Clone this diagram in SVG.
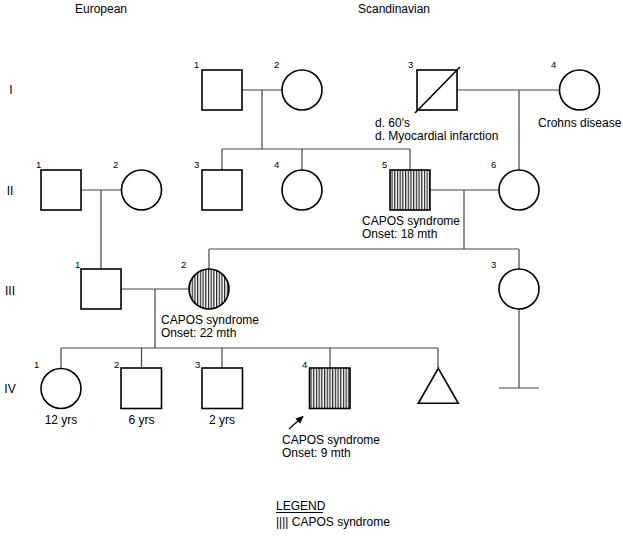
<svg xmlns="http://www.w3.org/2000/svg" width="623" height="540" viewBox="0 0 623 540">
<style>
.n{fill:#fff;stroke:#000;stroke-width:1.6}
.h{fill:url(#hatch);stroke:#000;stroke-width:1.6}
.c{fill:none;stroke:#444;stroke-width:1.2}
text{font-family:"Liberation Sans",Arial,sans-serif;fill:#000}
.t{font-size:12px}
.num{font-size:9.5px}
.gen{font-size:12px}
</style>
<defs>
<pattern id="hatch" patternUnits="userSpaceOnUse" width="2.7" height="10">
<rect width="2.7" height="10" fill="#fff"/>
<rect x="0" width="1.2" height="10" fill="#222"/>
</pattern>
<marker id="arr" markerWidth="8" markerHeight="8" refX="7" refY="4" orient="auto" markerUnits="userSpaceOnUse">
<path d="M0,0.5 L8,4 L0,7.5 Z" fill="#000"/>
</marker>
</defs>
<rect width="623" height="540" fill="#fff"/>

<text class="t" x="101" y="13" text-anchor="middle">European</text>
<text class="t" x="394" y="13" text-anchor="middle">Scandinavian</text>

<g id="gen-labels">
<text class="gen" x="11" y="94" text-anchor="middle">I</text>
<text class="gen" x="10" y="195" text-anchor="middle">II</text>
<text class="gen" x="10" y="295" text-anchor="middle">III</text>
<text class="gen" x="10" y="393" text-anchor="middle">IV</text>
</g>

<g id="connectors">
<line class="c" x1="242" y1="90" x2="282" y2="90"/>
<line class="c" x1="262" y1="90" x2="262" y2="149"/>
<line class="c" x1="222" y1="149" x2="410" y2="149"/>
<line class="c" x1="222" y1="149" x2="222" y2="170"/>
<line class="c" x1="302" y1="149" x2="302" y2="170"/>
<line class="c" x1="410" y1="149" x2="410" y2="170"/>
<line class="c" x1="457" y1="90" x2="559" y2="90"/>
<line class="c" x1="519" y1="90" x2="519" y2="170"/>
<line class="c" x1="81" y1="190" x2="121" y2="190"/>
<line class="c" x1="101" y1="190" x2="101" y2="269"/>
<line class="c" x1="430" y1="190" x2="499" y2="190"/>
<line class="c" x1="464" y1="190" x2="464" y2="249"/>
<line class="c" x1="209" y1="249" x2="519" y2="249"/>
<line class="c" x1="209" y1="249" x2="209" y2="269"/>
<line class="c" x1="519" y1="249" x2="519" y2="269"/>
<line class="c" x1="121" y1="289" x2="189" y2="289"/>
<line class="c" x1="155" y1="289" x2="155" y2="348"/>
<line class="c" x1="61" y1="348" x2="438" y2="348"/>
<line class="c" x1="61" y1="348" x2="61" y2="368"/>
<line class="c" x1="141.5" y1="348" x2="141.5" y2="368"/>
<line class="c" x1="222" y1="348" x2="222" y2="368"/>
<line class="c" x1="330" y1="348" x2="330" y2="368"/>
<line class="c" x1="438" y1="348" x2="438" y2="368"/>
<line class="c" x1="519" y1="309" x2="519" y2="388"/>
<line class="c" x1="499" y1="388" x2="539" y2="388"/>
<line x1="289" y1="429" x2="303" y2="416.5" stroke="#000" stroke-width="1.2" marker-end="url(#arr)"/>
</g>

<g id="I-1"><rect class="n" x="202" y="70" width="40" height="40"/><text class="num" x="194" y="68">1</text></g>
<g id="I-2"><circle class="n" cx="302" cy="90" r="20"/><text class="num" x="274" y="68">2</text></g>
<g id="I-3"><rect class="n" x="417" y="70" width="40" height="40"/><line x1="415" y1="113" x2="460" y2="67" stroke="#000" stroke-width="1.6"/><text class="num" x="408" y="68">3</text>
<text class="t" x="375" y="127">d. 60's</text><text class="t" x="375" y="140">d. Myocardial infarction</text></g>
<g id="I-4"><circle class="n" cx="579.5" cy="90" r="20"/><text class="num" x="551" y="68">4</text><text class="t" x="538" y="127">Crohns disease</text></g>

<g id="II-1"><rect class="n" x="41" y="170" width="40" height="40"/><text class="num" x="36" y="168">1</text></g>
<g id="II-2"><circle class="n" cx="141.5" cy="190" r="20"/><text class="num" x="113" y="168">2</text></g>
<g id="II-3"><rect class="n" x="202" y="170" width="40" height="40"/><text class="num" x="194" y="168">3</text></g>
<g id="II-4"><circle class="n" cx="302" cy="190" r="20"/><text class="num" x="274" y="168">4</text></g>
<g id="II-5"><rect class="h" x="390" y="170" width="40" height="40"/><text class="num" x="382" y="168">5</text>
<text class="t" x="362" y="225">CAPOS syndrome</text><text class="t" x="362" y="238">Onset: 18 mth</text></g>
<g id="II-6"><circle class="n" cx="519" cy="190" r="20"/><text class="num" x="491" y="168">6</text></g>

<g id="III-1"><rect class="n" x="81" y="269" width="40" height="40"/><text class="num" x="75" y="268">1</text></g>
<g id="III-2"><circle class="h" cx="209" cy="289" r="20"/><text class="num" x="181" y="268">2</text>
<text class="t" x="161" y="324">CAPOS syndrome</text><text class="t" x="161" y="337">Onset: 22 mth</text></g>
<g id="III-3"><circle class="n" cx="519" cy="289" r="20"/><text class="num" x="491" y="268">3</text></g>

<g id="IV-1"><circle class="n" cx="61" cy="388.5" r="20"/><text class="num" x="34" y="368">1</text><text class="t" x="61" y="424" text-anchor="middle">12 yrs</text></g>
<g id="IV-2"><rect class="n" x="121" y="368" width="40.5" height="40.5"/><text class="num" x="114" y="368">2</text><text class="t" x="141.5" y="424" text-anchor="middle">6 yrs</text></g>
<g id="IV-3"><rect class="n" x="202" y="368" width="40.5" height="40.5"/><text class="num" x="195" y="368">3</text><text class="t" x="222" y="424" text-anchor="middle">2 yrs</text></g>
<g id="IV-4"><rect class="h" x="309.5" y="368" width="40.5" height="40.5"/><text class="num" x="302" y="368">4</text>
<text class="t" x="282" y="444">CAPOS syndrome</text><text class="t" x="282" y="457">Onset: 9 mth</text></g>
<g id="IV-5"><polygon class="n" points="438.3,368.3 458.3,403.3 418.3,403.3"/></g>

<g id="legend">
<text class="t" x="276" y="510">LEGEND</text>
<line x1="276" y1="512.5" x2="323" y2="512.5" stroke="#000" stroke-width="1"/>
<text class="t" x="276" y="526">|||| CAPOS syndrome</text>
</g>
</svg>
